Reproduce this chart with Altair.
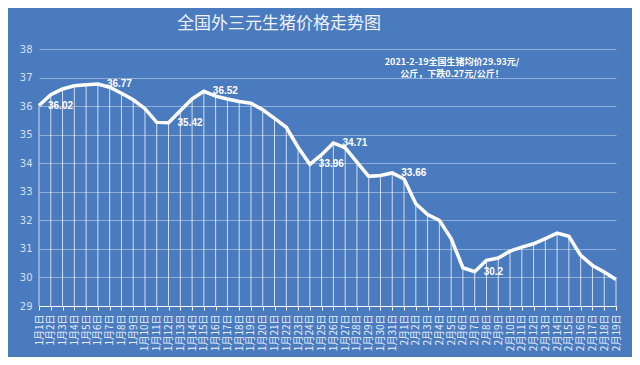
import altair as alt
import pandas as pd

dates = [f"1月{d}日" for d in range(1, 32)] + [f"2月{d}日" for d in range(1, 20)]
prices = [36.02, 36.40, 36.60, 36.71, 36.75, 36.77, 36.66, 36.45, 36.22, 35.91,
          35.43, 35.42, 35.84, 36.25, 36.52, 36.35, 36.25, 36.16, 36.10, 35.87,
          35.57, 35.26, 34.56, 33.96, 34.30, 34.71, 34.54, 34.04, 33.54, 33.57,
          33.66, 33.45, 32.58, 32.20, 32.00, 31.36, 30.34, 30.20, 30.60, 30.68,
          30.92, 31.06, 31.18, 31.36, 31.55, 31.44, 30.77, 30.42, 30.19, 29.93]
label_dates = ["1月1日", "1月6日", "1月12日", "1月15日", "1月24日", "1月26日", "1月31日", "2月7日"]
label_texts = ["36.02", "36.77", "35.42", "36.52", "33.96", "34.71", "33.66", "30.2"]
title_text = "全国外三元生猪价格走势图"
note_lines = ["2021-2-19全国生猪均价29.93元/", "公斤，下跌0.27元/公斤！"]
y_ticks = [29, 30, 31, 32, 33, 34, 35, 36, 37, 38]

df = pd.DataFrame({"date": dates, "price": prices})
price_map = dict(zip(dates, prices))
lab = pd.DataFrame({"date": label_dates, "text": label_texts,
                    "price": [price_map[d] for d in label_dates]})

BG = "#4A7BBF"
FONT = "Noto Sans CJK SC"

x_enc = alt.X("date:N", sort=dates, scale=alt.Scale(type="point", padding=0), title=None)
y_enc = alt.Y("price:Q", scale=alt.Scale(domain=[29, 38], nice=False, zero=False),
              axis=alt.Axis(values=y_ticks), title=None)

base = alt.Chart(df)

rules = base.mark_rule(color="#ffffff", opacity=0.75, strokeWidth=1).encode(
    x=x_enc, y=y_enc, y2=alt.datum(29))

line = base.mark_line(color="#ffffff", strokeWidth=3.5).encode(x=x_enc, y=y_enc)

labels = alt.Chart(lab).mark_text(color="#ffffff", fontSize=10, fontWeight="bold",
                                  align="left", baseline="middle", dx=9,
                                  font="Liberation Sans").encode(
    x=x_enc, y=y_enc, text="text:N")

note = alt.Chart(pd.DataFrame({"t": [note_lines]})).mark_text(
    color="#ffffff", fontSize=9, fontWeight="bold", font=FONT, align="center",
    baseline="middle", lineHeight=12).encode(
    x=alt.value(413), y=alt.value(13), text="t")

chart = alt.layer(rules, line, labels, note).properties(
    width=577, height=257, background=BG,
    title=alt.TitleParams(title_text, anchor="start", frame="group", dx=138, dy=22,
                          baseline="bottom", offset=16, fontSize=17, font=FONT,
                          fontWeight="normal", color="#eef3fb"),
    autosize=alt.AutoSizeParams(type="none"),
    padding={"left": 31, "top": 41, "right": 16, "bottom": 51},
).configure_view(strokeWidth=0).configure_axisX(
    labelAngle=270, labelFontSize=10, labelFont=FONT, labelColor="#e8eefa",
    domainColor="#ffffff", tickColor="#ffffff", tickSize=4, grid=False,
    labelPadding=4, labelOverlap=False
).configure_axisY(
    grid=True, gridColor="#ffffff", gridOpacity=0.4, domain=False, ticks=False,
    labelColor="#d5e0f0", labelFontSize=10, labelPadding=7, labelFont="DejaVu Sans",
    labelOverlap=False, tickCount=10
)

chart.save("out.html", embed_options={"renderer": "svg", "actions": False})
